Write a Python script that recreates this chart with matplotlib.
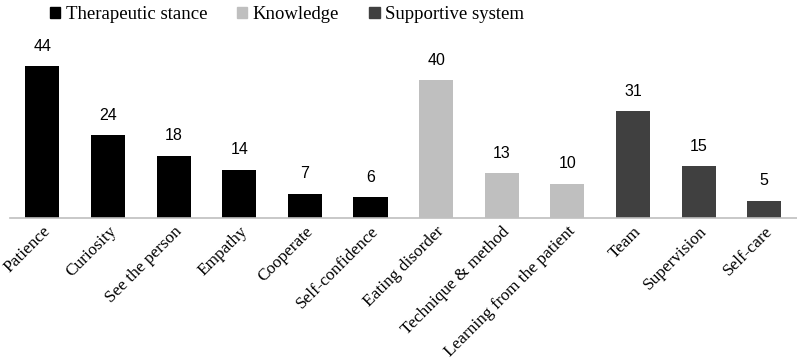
import matplotlib.pyplot as plt
from matplotlib.patches import Patch

categories = ["Patience", "Curiosity", "See the person", "Empathy", "Cooperate",
              "Self-confidence", "Eating disorder", "Technique & method",
              "Learning from the patient", "Team", "Supervision", "Self-care"]
values = [44, 24, 18, 14, 7, 6, 40, 13, 10, 31, 15, 5]
groups = ["Therapeutic stance"] * 6 + ["Knowledge"] * 3 + ["Supportive system"] * 3
group_names = ["Therapeutic stance", "Knowledge", "Supportive system"]
group_colors = {"Therapeutic stance": "#000000",
                "Knowledge": "#bfbfbf",
                "Supportive system": "#404040"}

fig = plt.figure(figsize=(7.97, 3.63), dpi=100)
ax = fig.add_axes([0.012, 0.3995, 0.988, 0.49])

x = range(len(categories))
colors = [group_colors[g] for g in groups]
bars = ax.bar(x, values, width=0.52, color=colors)

for b, v in zip(bars, values):
    ax.annotate(str(v), (b.get_x() + b.get_width() / 2, v), xytext=(0, 9),
                textcoords="offset points", ha="center", va="bottom",
                fontsize=11.5, family="Liberation Sans")

ax.set_xlim(-0.5, 11.5)
ax.set_ylim(0, 51.6)
ax.set_xticks(list(x))
ax.set_xticklabels(categories, rotation=45, ha="right", va="top",
                   rotation_mode="anchor", family="Liberation Serif", fontsize=12.4)
ax.tick_params(axis="x", length=0, pad=4)
ax.set_yticks([])
for s in ["top", "right", "left"]:
    ax.spines[s].set_visible(False)
ax.spines["bottom"].set_color("#bfbfbf")
ax.spines["bottom"].set_linewidth(1.2)

handles = [Patch(color=group_colors[g], label=g) for g in group_names]
fig.legend(handles=handles, loc="center", bbox_to_anchor=(0.36, 0.96), ncol=3,
           frameon=False, prop={"family": "Liberation Serif", "size": 13.5},
           handlelength=0.55, handleheight=0.55, handletextpad=0.3, columnspacing=1.6)

fig.savefig("out.png", dpi=100)
